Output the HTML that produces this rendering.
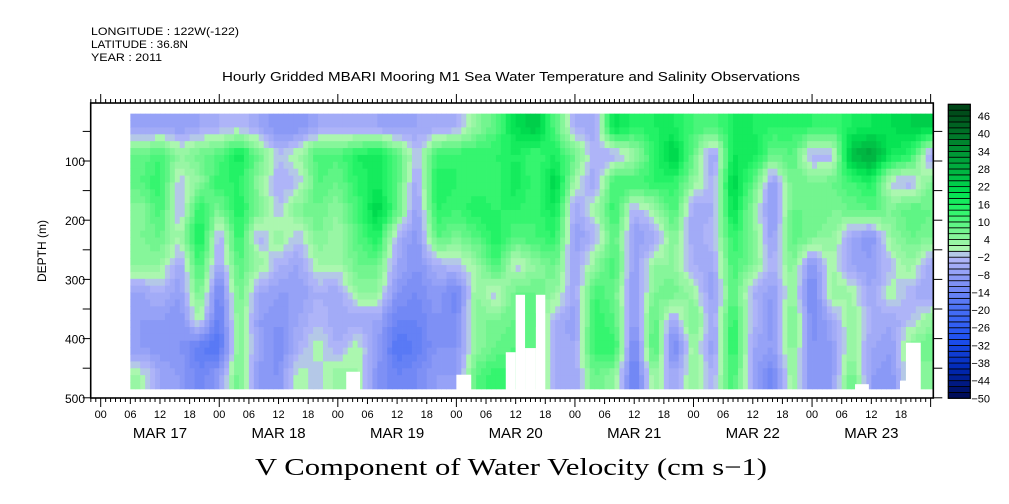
<!DOCTYPE html>
<html><head><meta charset="utf-8"><style>
body{margin:0;background:#fff;}
svg{display:block;font-family:"Liberation Sans",sans-serif;}
</style></head><body>
<svg id="chart" width="1009" height="504" viewBox="0 0 1009 504" xmlns="http://www.w3.org/2000/svg">
<rect width="1009" height="504" fill="#fff"/>
<g font-size="11" fill="#000">
<text x="91" y="35" textLength="148" lengthAdjust="spacingAndGlyphs">LONGITUDE : 122W(-122)</text>
<text x="91" y="48" textLength="97" lengthAdjust="spacingAndGlyphs">LATITUDE : 36.8N</text>
<text x="91" y="61" textLength="71" lengthAdjust="spacingAndGlyphs">YEAR : 2011</text>
</g>
<text x="222" y="81" font-size="13" textLength="578" lengthAdjust="spacingAndGlyphs">Hourly Gridded MBARI Mooring M1 Sea Water Temperature and Salinity Observations</text>
<defs><clipPath id="pc"><rect x="90.7" y="103" width="842.6" height="295"/></clipPath></defs>
<g id="heat" clip-path="url(#pc)"></g>
<g id="gaps" clip-path="url(#pc)"></g>
<g id="axes"></g>
<g id="cbar"></g>
<text transform="translate(46,251) rotate(-90)" text-anchor="middle" font-size="12">DEPTH (m)</text>
<text x="511" y="475" text-anchor="middle" font-family="'Liberation Serif',serif" font-size="24" textLength="512" lengthAdjust="spacingAndGlyphs">V Component of Water Velocity (cm s−1)</text>
</svg>
<script>
// column hours start at 6, every 4h; rows are depth bands from 20 to 485 m
const colStartHour = 6, colStepHour = 4;
const depthTop = 20, depthBottom = 485;
const values = [
[-8,8,10,4,6,4,-6,-8,-8,2],
[-6,12,14,12,8,4,-4,-8,-10,-6],
[-8,4,-2,-4,2,-6,-8,-10,-10,-8],
[-6,8,4,14,18,12,8,2,-16,-14],
[-4,10,14,6,-4,-6,-14,-16,-18,-8],
[-2,18,14,16,14,10,8,6,6,8],
[-6,8,4,6,-4,4,-6,-8,-6,-10],
[-10,-2,-4,-2,4,-4,-8,-10,-12,-10],
[-10,2,-2,6,-2,-6,-8,-6,-4,2],
[-6,12,10,8,6,2,-4,-2,2,-2],
[-4,10,8,4,2,2,-6,-6,-4,4],
[-6,16,14,12,10,8,4,-6,2,2],
[-6,18,18,22,16,8,4,-6,-8,-10],
[-8,10,10,10,-4,-6,-10,-14,-18,-14],
[-6,-2,-6,-8,-10,-10,-12,-14,-16,-12],
[-6,12,16,14,10,-4,-8,-10,-10,-8],
[-4,14,14,12,6,-2,-14,-12,-10,-8],
[4,14,12,16,10,2,4,6,4,10],
[10,14,12,14,16,12,-2,6,8,14],
[20,16,18,14,10,-2,8,8,10,12],
[24,12,12,12,12,4,8,10,8,8],
[10,16,22,18,14,8,4,-4,-4,-4],
[-4,8,2,-6,-8,-6,-6,-8,-6,-6],
[-6,-4,-6,2,-4,4,12,14,14,8],
[20,-4,12,14,10,12,8,10,14,4],
[14,2,12,-4,-8,-8,-10,-10,-14,-16],
[16,14,14,2,-6,4,6,10,12,4],
[16,24,14,12,6,4,8,-6,-14,-6],
[12,8,4,-6,-6,-4,2,8,4,4],
[10,-8,-4,-4,-2,-6,-8,-6,-8,-4],
[16,18,22,20,14,12,10,14,16,12],
[16,18,10,4,6,6,-4,-2,-6,-6],
[14,8,-8,-10,-8,-4,-8,-10,-8,-14],
[14,10,8,8,10,6,4,8,6,4],
[14,-4,6,8,6,-10,-14,-12,-10,-10],
[12,-4,8,6,4,2,4,-6,-8,-8],
[16,26,12,8,-6,-6,2,4,4,8],
[18,30,16,10,-10,-8,-6,-4,-6,-8],
[20,18,-2,6,4,-2,2,-6,-8,-10],
[22,14,-4,10,8,4,-4,-2,6,4],
[22,-6,6,8,6,-6,-6,4,8,4]
];
// missing-data gaps: start hour, end hour, top depth (to bottom)
const gapStart = [49.7,72,82,84,85.9,88.1,152.7,161.8,163];
const gapEnd   = [52.5,75,84,85.9,88.1,90,155.5,163.8,166];
const gapDepth = [456,461,423,326,416,326,477,471,407];
const cbarLevels = [46,40,34,28,22,16,10,4,-2,-8,-14,-20,-26,-32,-38,-44,-50];
const dayLabels = ["MAR 17","MAR 18","MAR 19","MAR 20","MAR 21","MAR 22","MAR 23"];
const hourLabels = ["00","06","12","18"];
const depthTicks = [100,200,300,400,500];

const NS="http://www.w3.org/2000/svg";
const X0=100.7, PXH=4.94, YD0=101.8, PXM=0.592;
const xs=h=>X0+h*PXH, ys=d=>YD0+d*PXM;
function el(tag,attrs,parent){const e=document.createElementNS(NS,tag);for(const k in attrs)e.setAttribute(k,attrs[k]);parent.appendChild(e);return e;}

const anchors=[[-50,[0,10,80]],[-40,[0,40,180]],[-30,[30,80,240]],[-20,[70,110,245]],[-12,[120,140,245]],[-2,[180,184,248]],[0,[180,247,180]],[8,[106,245,138]],[14,[42,245,106]],[20,[0,224,80]],[28,[0,176,64]],[36,[0,138,48]],[48,[0,70,24]]];
function color(v){
  v=Math.max(-50,Math.min(49.9,v));
  const b=Math.floor((v+50)/2); let c=-50+b*2+1;
  if(c===-1)c=-1.5; if(c===1)c=1;
  for(let i=0;i<anchors.length-1;i++){const [a,ca]=anchors[i],[bb,cb]=anchors[i+1];
    if(c>=a&&c<=bb){const t=(c-a)/(bb-a);return `rgb(${ca.map((x,j)=>Math.round(x+(cb[j]-x)*t)).join(',')})`;}}
  return 'rgb(0,70,24)';
}
const heat=document.getElementById('heat');
const nC=values.length, nR=values[0].length, rowH=(depthBottom-depthTop)/nR;
const sub=4;
function val(ci,ri){ci=Math.max(0,Math.min(nC-1,ci));ri=Math.max(0,Math.min(nR-1,ri));return values[ci][ri];}
for(let i=0;i<nC*sub;i++){
  for(let j=0;j<nR*sub;j++){
    const fc=(i+0.5)/sub-0.5, fr=(j+0.5)/sub-0.5;
    const c0=Math.floor(fc), r0=Math.floor(fr), tc=fc-c0, tr=fr-r0;
    const v=(val(c0,r0)*(1-tc)+val(c0+1,r0)*tc)*(1-tr)+(val(c0,r0+1)*(1-tc)+val(c0+1,r0+1)*tc)*tr;
    const h0=colStartHour+i*colStepHour/sub, d0=depthTop+j*rowH/sub;
    const r=el('rect',{x:xs(h0).toFixed(2),y:ys(d0).toFixed(2),width:(colStepHour/sub*PXH+0.4).toFixed(2),height:(rowH/sub*PXM+0.4).toFixed(2),fill:color(v)},heat);
    
    
  }
}
const gaps=document.getElementById('gaps');
gapStart.forEach((s,k)=>{
  const r=el('rect',{x:xs(s),y:ys(gapDepth[k]),width:(gapEnd[k]-s)*PXH,height:ys(depthBottom)-ys(gapDepth[k])+1,fill:'#fff'},gaps);
  
  
});
const ax=document.getElementById('axes');
const L=90.7,R=933.3,T=103,B=398;
el('rect',{x:L,y:T,width:R-L,height:B-T,fill:'none',stroke:'#000','stroke-width':1.6},ax);
for(let h=-2;h<=168;h++){
  const x=xs(h); if(x<L||x>R)continue;
  const len=h%24===0?9:(h%6===0?6:4);
  el('line',{x1:x,y1:B,x2:x,y2:B+len,stroke:'#000','stroke-width':1},ax);
  el('line',{x1:x,y1:T,x2:x,y2:T-(h%24===0?9:4),stroke:'#000','stroke-width':1},ax);
  if(h%6===0&&h>=0&&h<168){const t=el('text',{x:x,y:418,'text-anchor':'middle','font-size':11},ax);t.textContent=hourLabels[(h/6)%4];
    
    }
}
dayLabels.forEach((d,k)=>{const t=el('text',{x:xs(k*24+12),y:438,'text-anchor':'middle','font-size':15},ax);t.textContent=d;
  
  });
for(let d=50;d<=500;d+=50){const y=ys(d);
  el('line',{x1:L-8,y1:y,x2:L,y2:y,stroke:'#000'},ax);
  el('line',{x1:R,y1:y,x2:R+9,y2:y,stroke:'#000'},ax);}
depthTicks.forEach(d=>{const t=el('text',{x:85,y:ys(d)+5,'text-anchor':'end','font-size':12},ax);t.textContent=d;
  
  });
const cb=document.getElementById('cbar');
const CT=104.3,CB=398.3,bh=(CB-CT)/50;
for(let k=0;k<50;k++){const v=-50+k*2+1;
  const r=el('rect',{x:948.3,y:CB-(k+1)*bh,width:22,height:bh,fill:color(v),stroke:'#000','stroke-width':0.8},cb);
  
  }
el('rect',{x:948.3,y:CT,width:22,height:CB-CT,fill:'none',stroke:'#000','stroke-width':1.2},cb);
cbarLevels.forEach(v=>{const y=CB-(v+50)/2*bh;
  const t=el('text',{x:990,y:y+4,'text-anchor':'end','font-size':11},cb);t.textContent=v<0?'−'+(-v):v;
  
  });
</script>
</body></html>
